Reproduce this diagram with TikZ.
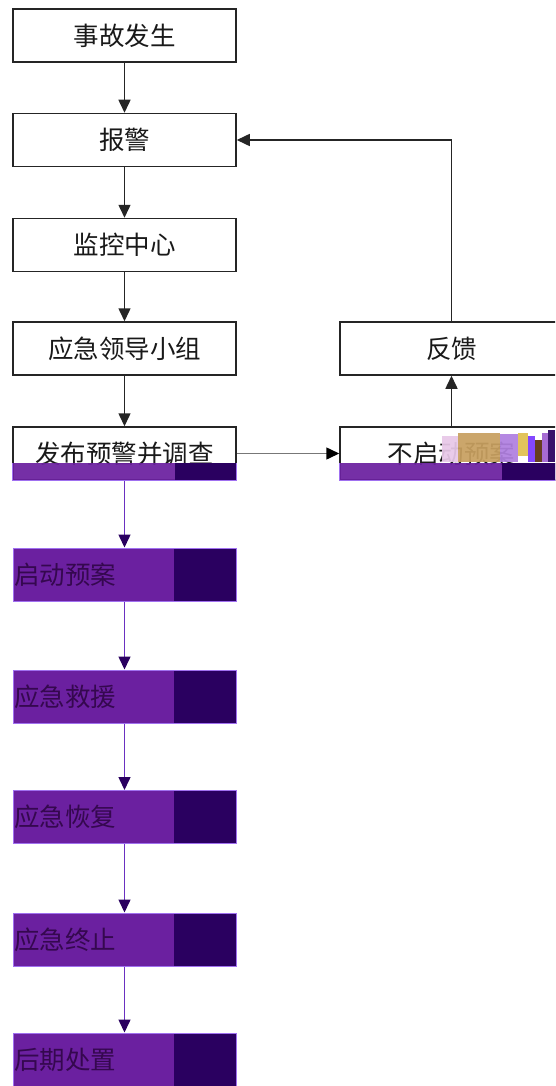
\documentclass[tikz,border=0pt]{standalone}
\usepackage{fontspec}
\newfontfamily\cjk{Noto Sans CJK SC}
\usetikzlibrary{arrows.meta,calc}
\definecolor{pfill}{HTML}{6B20A0}
\definecolor{pdark}{HTML}{2A0060}
\definecolor{pedge}{HTML}{A070F0}
\definecolor{ptext}{HTML}{35084F}
\definecolor{pline}{HTML}{6A30C0}
\definecolor{gline}{HTML}{252525}
\definecolor{gray2}{HTML}{777777}
\definecolor{gA}{HTML}{E8C8E8}
\definecolor{gB}{HTML}{C8A060}
\definecolor{gC}{HTML}{B080E0}
\definecolor{gD}{HTML}{E0C050}
\definecolor{gE}{HTML}{7A3AFF}
\definecolor{gF}{HTML}{5A3010}
\definecolor{gG}{HTML}{A060D0}
\tikzset{
  boxfont/.style={font=\cjk\fontsize{25.5}{25.5}\selectfont},
  wbox/.style={boxfont, draw=gline, line width=1.5pt, fill=white, minimum width=223pt, minimum height=53pt, inner sep=0pt, text=black!90},
  pbox/.style={boxfont, draw=pedge, line width=1pt, fill=pfill, minimum width=223pt, minimum height=53pt, inner sep=0pt, text width=221pt, align=left, text=ptext,
    path picture={\fill[pdark] ([xshift=-62pt]path picture bounding box.north east) rectangle (path picture bounding box.south east);}},
  arr/.style={-{Triangle[length=13pt,width=12pt]}, line width=1.5pt, draw=gline},
  garr/.style={-{Triangle[length=13pt,width=12pt,color=black]}, line width=1.5pt, draw=gray2},
  parr/.style={-{Triangle[length=13pt,width=12pt,color=pdark]}, line width=1.5pt, draw=pline},
}
\begin{document}
\begin{tikzpicture}[x=1pt,y=-1pt]
\useasboundingbox (0,0) rectangle (555,1086);
\clip (0,0) rectangle (555,1086);
\fill[white] (0,0) rectangle (555,1086);
% left column
\node[wbox] (n1) at (124.5,35.5) {事故发生};
\node[wbox] (n2) at (124.5,140) {报警};
\node[wbox] (n3) at (124.5,245) {监控中心};
\node[wbox] (n4) at (124.5,348.5) {应急领导小组};
\node[wbox] (n5) at (124.5,453.5) {发布预警并调查};
% right column
\node[wbox] (r1) at (451.5,348.5) {反馈};
\node[wbox] (r2) at (451.5,453.5) {不启动预案};
% purple bands over the lower part of n5 and r2
\foreach \n in {n5,r2}{
  \fill[pfill,opacity=0.93] (\n.south west) rectangle ($(\n.south east)+(0,-18)$);
  \fill[pdark] ($(\n.south east)+(-62,0)$) rectangle ($(\n.south east)+(0,-18)$);
  \draw[pedge,line width=1pt] ($(\n.south west)+(0,-18)$) -- (\n.south west) -- (\n.south east) -- ($(\n.south east)+(0,-18)$);
}
% glitch patch on r2
\begin{scope}[opacity=0.93]
\fill[gA] (442,436) rectangle (458,462);
\fill[gB] (458,433) rectangle (500,462);
\fill[gC] (500,434) rectangle (518,462);
\fill[gD] (518,433) rectangle (528,456);
\fill[gE] (528,436) rectangle (535,462);
\fill[gF] (535,440) rectangle (542,462);
\fill[gG] (542,433) rectangle (548,462);
\fill[pdark] (548,430) rectangle (555,462);
\end{scope}
% purple boxes
\node[pbox] (p1) at (124.5,574.5) {启动预案};
\node[pbox] (p2) at (124.5,696.5) {应急救援};
\node[pbox] (p3) at (124.5,817) {应急恢复};
\node[pbox] (p4) at (124.5,939.5) {应急终止};
\node[pbox] (p5) at (124.5,1059.5) {后期处置};
% connectors
\draw[arr] (n1) -- (n2);
\draw[arr] (n2) -- (n3);
\draw[arr] (n3) -- (n4);
\draw[arr] (n4) -- (n5);
\draw[garr] (n5.east) -- (r2.west);
\draw[arr] (r2.north) -- (r1.south);
\draw[arr] (r1.north) -- (r1.north |- n2.east) -- (n2.east);
\draw[parr] (n5.south) -- (p1.north);
\draw[parr] (p1) -- (p2);
\draw[parr] (p2) -- (p3);
\draw[parr] (p3) -- (p4);
\draw[parr] (p4) -- (p5);
\end{tikzpicture}
\end{document}
